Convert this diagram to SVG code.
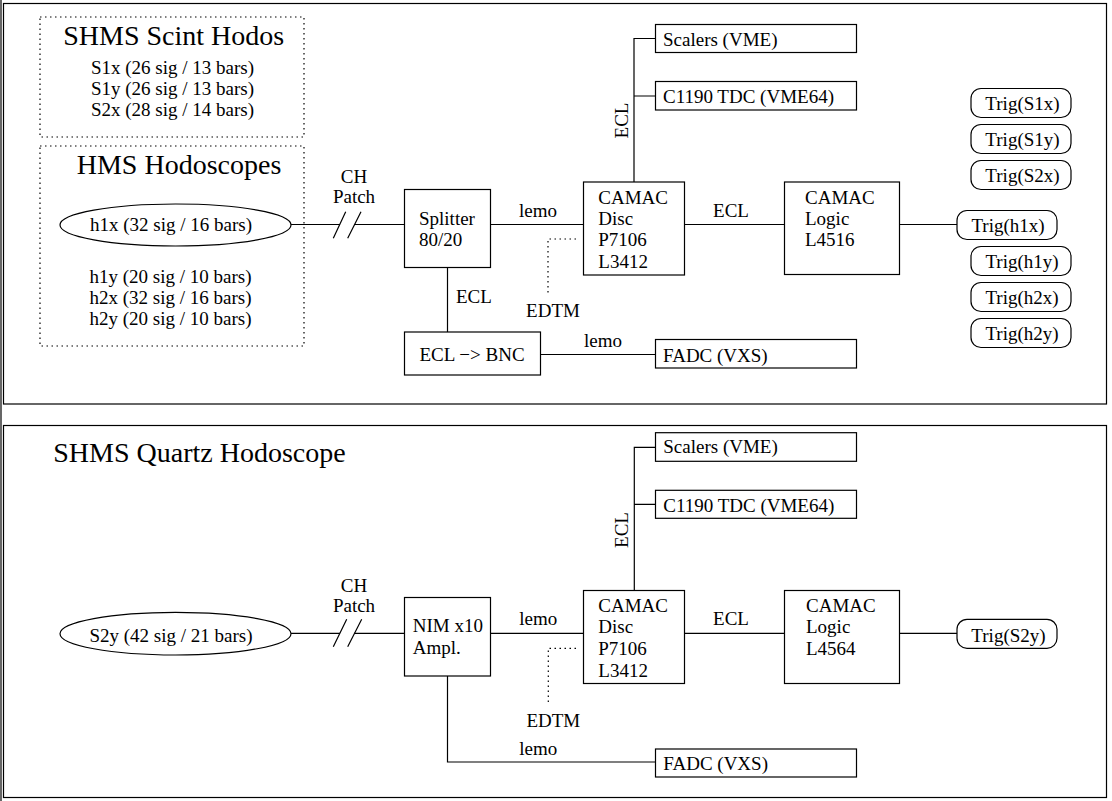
<svg xmlns="http://www.w3.org/2000/svg" width="1112" height="801" viewBox="0 0 1112 801" font-family="'Liberation Serif', 'Times New Roman', Times, 'DejaVu Serif', serif">
<style>
.b{fill:#fff;stroke:#000;stroke-width:1.2}
.f{fill:none;stroke:#000;stroke-width:1.2}
.d{fill:none;stroke:#000;stroke-width:1.2;stroke-dasharray:1.5 3.5}
.c{fill:none;stroke:#000;stroke-width:1.2}
.t{font-size:19px;fill:#000}
.h{font-size:28px;fill:#000}
.m{text-anchor:middle}
</style>
<rect x="0" y="0" width="1112" height="801" fill="#fff"/>
<line x1="1" y1="0" x2="1" y2="801" class="f"/>

<g id="panel-top">
<rect x="3.5" y="3.5" width="1103" height="400.5" class="f"/>
</g>
<g id="panel-bottom">
<rect x="3.5" y="425.5" width="1103" height="372" class="f"/>
</g>

<g id="connectors">
<path d="M291 224.5H340M354 224.5H404.5" class="c"/>
<path d="M333.3 238.3L345.7 211.7M347.7 238.3L361 211.7" class="c"/>
<path d="M490.5 224.5H583.5" class="c"/>
<path d="M684.5 224.5H784.5" class="c"/>
<path d="M899.5 224.5H957" class="c"/>
<path d="M447.5 267.5V332" class="c"/>
<path d="M540.5 354.5H655.5" class="c"/>
<path d="M634 182V38.5H655.5M634 96H655.5" class="c"/>
<path d="M576 239H548V295" class="d"/>
<path d="M291 633.3H340M354 633.3H404.5" class="c"/>
<path d="M333.3 646.7L346.7 619.3M347.7 646.7L361.7 619.3" class="c"/>
<path d="M490.5 633.3H583.5" class="c"/>
<path d="M684.5 633.3H784.5" class="c"/>
<path d="M899.5 633.3H957" class="c"/>
<path d="M447.5 676V762H655.5" class="c"/>
<path d="M634.3 590.5V447.3H655.5M634.3 504.3H655.5" class="c"/>
<path d="M576 648.3H548.3V705" class="d"/>
</g>

<g id="labels">
<text class="t m" x="354" y="183">CH</text>
<text class="t m" x="354" y="203">Patch</text>
<text class="t m" x="538" y="217">lemo</text>
<text class="t m" x="731" y="217">ECL</text>
<text class="t" x="456" y="303">ECL</text>
<text class="t m" x="553" y="317">EDTM</text>
<text class="t m" x="603" y="347">lemo</text>
<text class="t m" transform="translate(628,120.5) rotate(-90)">ECL</text>

<text class="h" x="53.3" y="461.7">SHMS Quartz Hodoscope</text>
<text class="t m" x="354" y="591.7">CH</text>
<text class="t m" x="354" y="612.3">Patch</text>
<text class="t m" x="538.3" y="625">lemo</text>
<text class="t m" x="731" y="625">ECL</text>
<text class="t m" x="553.3" y="726.7">EDTM</text>
<text class="t m" x="538.3" y="755">lemo</text>
<text class="t m" transform="translate(628,530) rotate(-90)">ECL</text>
</g>

<g id="shms-scint">
<rect x="40" y="17" width="264" height="120" class="d"/>
<text class="h m" x="173.7" y="45">SHMS Scint Hodos</text>
<text class="t m" x="172.5" y="73.5">S1x (26 sig / 13 bars)</text>
<text class="t m" x="172.5" y="94.5">S1y (26 sig / 13 bars)</text>
<text class="t m" x="172.5" y="115.5">S2x (28 sig / 14 bars)</text>
</g>

<g id="hms-hodo">
<rect x="40" y="146" width="264" height="200" class="d"/>
<text class="h m" x="179" y="174">HMS Hodoscopes</text>
<text class="t m" x="170.5" y="283">h1y (20 sig / 10 bars)</text>
<text class="t m" x="170.5" y="304">h2x (32 sig / 16 bars)</text>
<text class="t m" x="170.5" y="325">h2y (20 sig / 10 bars)</text>
</g>

<g id="h1x">
<ellipse cx="175.5" cy="225" rx="115.5" ry="21" class="b"/>
<text class="t m" x="171" y="231">h1x (32 sig / 16 bars)</text>
</g>

<g id="splitter">
<rect x="404.5" y="189.5" width="86" height="78" class="b"/>
<text class="t" x="419" y="225">Splitter</text>
<text class="t" x="419" y="246">80/20</text>
</g>

<g id="disc-top">
<rect x="583.5" y="182" width="101" height="93" class="b"/>
<text class="t" x="598.3" y="203.5">CAMAC</text>
<text class="t" x="598.3" y="225">Disc</text>
<text class="t" x="598.3" y="246">P7106</text>
<text class="t" x="598.3" y="267.5">L3412</text>
</g>

<g id="logic-top">
<rect x="784.5" y="182" width="115" height="92.5" class="b"/>
<text class="t" x="805" y="203.5">CAMAC</text>
<text class="t" x="805" y="225">Logic</text>
<text class="t" x="805" y="246">L4516</text>
</g>

<g id="ecl-bnc">
<rect x="404.5" y="332" width="136" height="43" class="b"/>
<text class="t m" x="472" y="361">ECL −&gt; BNC</text>
</g>

<g id="scalers-top">
<rect x="655.5" y="24.5" width="201" height="28" class="b"/>
<text class="t" x="663" y="46">Scalers (VME)</text>
</g>
<g id="tdc-top">
<rect x="655.5" y="81.5" width="201" height="28.5" class="b"/>
<text class="t" x="663" y="103.3">C1190 TDC (VME64)</text>
</g>
<g id="fadc-top">
<rect x="655.5" y="339.5" width="201" height="28.5" class="b"/>
<text class="t" x="663" y="361.7">FADC (VXS)</text>
</g>

<g id="trig-s1x"><rect x="971" y="88.5" width="100" height="29" rx="10" class="b"/><text class="t m" x="1022.5" y="110">Trig(S1x)</text></g>
<g id="trig-s1y"><rect x="971" y="124.5" width="100" height="29" rx="10" class="b"/><text class="t m" x="1022.5" y="146">Trig(S1y)</text></g>
<g id="trig-s2x"><rect x="971" y="160.5" width="100" height="29" rx="10" class="b"/><text class="t m" x="1022.5" y="182">Trig(S2x)</text></g>
<g id="trig-h1x"><rect x="957" y="210.5" width="100" height="29" rx="10" class="b"/><text class="t m" x="1008" y="232">Trig(h1x)</text></g>
<g id="trig-h1y"><rect x="971" y="246.5" width="100" height="29" rx="10" class="b"/><text class="t m" x="1022" y="268">Trig(h1y)</text></g>
<g id="trig-h2x"><rect x="971" y="282.5" width="100" height="29" rx="10" class="b"/><text class="t m" x="1022" y="304">Trig(h2x)</text></g>
<g id="trig-h2y"><rect x="971" y="318.5" width="100" height="29" rx="10" class="b"/><text class="t m" x="1022" y="340">Trig(h2y)</text></g>

<g id="s2y">
<ellipse cx="175.5" cy="633.7" rx="115.5" ry="21.3" class="b"/>
<text class="t m" x="171" y="641.7">S2y (42 sig / 21 bars)</text>
</g>

<g id="nim">
<rect x="404.5" y="597.5" width="86" height="78.5" class="b"/>
<text class="t" x="412.7" y="631.7">NIM x10</text>
<text class="t" x="412.7" y="654">Ampl.</text>
</g>

<g id="disc-bottom">
<rect x="583.5" y="590.5" width="101" height="93" class="b"/>
<text class="t" x="598.3" y="611.7">CAMAC</text>
<text class="t" x="598.3" y="633.3">Disc</text>
<text class="t" x="598.3" y="655">P7106</text>
<text class="t" x="598.3" y="676.7">L3412</text>
</g>

<g id="logic-bottom">
<rect x="784.5" y="590.5" width="115" height="93" class="b"/>
<text class="t" x="806" y="611.7">CAMAC</text>
<text class="t" x="806" y="633.3">Logic</text>
<text class="t" x="806" y="655">L4564</text>
</g>

<g id="scalers-bottom">
<rect x="655.5" y="432.7" width="201" height="28.6" class="b"/>
<text class="t" x="663.3" y="453.3">Scalers (VME)</text>
</g>
<g id="tdc-bottom">
<rect x="655.5" y="490.3" width="201" height="28" class="b"/>
<text class="t" x="663.3" y="511.7">C1190 TDC (VME64)</text>
</g>
<g id="fadc-bottom">
<rect x="655.5" y="749" width="201" height="28" class="b"/>
<text class="t" x="663.3" y="770">FADC (VXS)</text>
</g>

<g id="trig-s2y"><rect x="957" y="619.3" width="100" height="29" rx="10" class="b"/><text class="t m" x="1008.5" y="641.5">Trig(S2y)</text></g>
</svg>
